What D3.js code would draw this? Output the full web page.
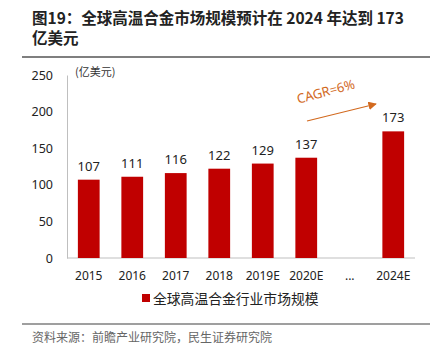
<!DOCTYPE html>
<html>
<head>
<meta charset="utf-8">
<script src="https://cdn.jsdelivr.net/npm/d3@7/dist/d3.min.js"></script>
<style>
  body { margin: 0; background: #fff; }
  text { font-family: "Noto Sans CJK SC", "Noto Sans", sans-serif; }
</style>
</head>
<body>
<div id="chart-area"></div>
<script>
// data
var categories = ['2015', '2016', '2017', '2018', '2019E', '2020E', '...', '2024E'];
var values = [107, 111, 116, 122, 129, 137, null, 173];
var yTicks = [0, 50, 100, 150, 200, 250];

var W = 437, H = 354;
var plot = { left: 67, right: 415, top: 75, bottom: 258 };

var svg = d3.select('#chart-area').append('svg')
    .attr('width', W)
    .attr('height', H);

// title
svg.append('text')
    .attr('x', 32).attr('y', 24)
    .attr('font-size', '15.5px').attr('font-weight', 'bold').attr('fill', '#222')
    .text('图19：全球高温合金市场规模预计在 2024 年达到 173');
svg.append('text')
    .attr('x', 32).attr('y', 44)
    .attr('font-size', '15.5px').attr('font-weight', 'bold').attr('fill', '#222')
    .text('亿美元');
svg.append('line')
    .attr('x1', 22).attr('x2', 430).attr('y1', 57).attr('y2', 57)
    .attr('stroke', '#7f7f7f').attr('stroke-width', 2);

// scales
var x = d3.scaleBand()
    .domain(categories)
    .range([plot.left, plot.right])
    .paddingInner(0.5)
    .paddingOuter(0.25);

var y = d3.scaleLinear()
    .domain([0, 250])
    .range([plot.bottom, plot.top]);

// y axis
var yAxis = svg.append('g')
    .attr('transform', 'translate(' + plot.left + ',0)')
    .call(d3.axisLeft(y).tickValues(yTicks).tickSize(0).tickPadding(14));
yAxis.select('.domain').attr('stroke', '#bfbfbf');
yAxis.selectAll('text').attr('font-size', '12.5px').attr('fill', '#222')
    .style('font-family', '"Noto Sans", sans-serif');

// x axis
var xAxis = svg.append('g')
    .attr('transform', 'translate(0,' + plot.bottom + ')')
    .call(d3.axisBottom(x).tickSize(0).tickPadding(13));
xAxis.select('.domain').attr('stroke', '#bfbfbf').attr('d', 'M' + plot.left + ',0H' + plot.right);
xAxis.selectAll('text').attr('font-size', '12px').attr('fill', '#222')
    .style('font-family', '"Noto Sans", sans-serif');

// unit
svg.append('text')
    .attr('x', 75).attr('y', 76)
    .attr('font-size', '11px').attr('fill', '#333')
    .text('(亿美元)');

var barData = categories.map(function(c, i) { return { cat: c, v: values[i] }; })
    .filter(function(d) { return d.v !== null; });

// bars
svg.selectAll('rect.bar')
    .data(barData)
    .enter().append('rect')
    .attr('class', 'bar')
    .attr('x', function(d) { return x(d.cat); })
    .attr('width', x.bandwidth())
    .attr('y', function(d) { return y(d.v); })
    .attr('height', function(d) { return y(0) - y(d.v); })
    .attr('fill', '#c00000');

// value labels
svg.selectAll('text.val')
    .data(barData)
    .enter().append('text')
    .attr('class', 'val')
    .attr('x', function(d) { return x(d.cat) + x.bandwidth() / 2; })
    .attr('y', function(d) { return y(d.v) - 9; })
    .attr('text-anchor', 'middle')
    .attr('font-size', '13px').attr('fill', '#222')
    .style('font-family', '"Noto Sans", sans-serif')
    .text(function(d) { return d.v; });

// CAGR arrow
var orange = '#d2691e';
svg.append('defs').append('marker')
    .attr('id', 'arr')
    .attr('viewBox', '0 0 10 10')
    .attr('refX', 9).attr('refY', 5)
    .attr('markerWidth', 7).attr('markerHeight', 7)
    .attr('orient', 'auto')
    .append('path').attr('d', 'M0,0L10,5L0,10Z').attr('fill', orange);
svg.append('line')
    .attr('x1', 307).attr('y1', 121).attr('x2', 376).attr('y2', 104)
    .attr('stroke', orange).attr('stroke-width', 1.2)
    .attr('marker-end', 'url(#arr)');
svg.append('text')
    .attr('transform', 'translate(327,96) rotate(-15)')
    .attr('text-anchor', 'middle')
    .attr('font-size', '13px').attr('fill', orange)
    .style('font-family', '"Noto Sans", sans-serif')
    .text('CAGR=6%');

// legend
svg.append('rect')
    .attr('x', 142).attr('y', 294).attr('width', 8).attr('height', 8)
    .attr('fill', '#c00000');
svg.append('text')
    .attr('x', 153).attr('y', 303.5)
    .attr('font-size', '13.8px').attr('fill', '#222')
    .text('全球高温合金行业市场规模');

// footer
svg.append('line')
    .attr('x1', 22).attr('x2', 430).attr('y1', 324).attr('y2', 324)
    .attr('stroke', '#7f7f7f').attr('stroke-width', 1.5);
svg.append('text')
    .attr('x', 32).attr('y', 342)
    .attr('font-size', '12px').attr('fill', '#666')
    .text('资料来源：前瞻产业研究院，民生证券研究院');
</script>
</body>
</html>
